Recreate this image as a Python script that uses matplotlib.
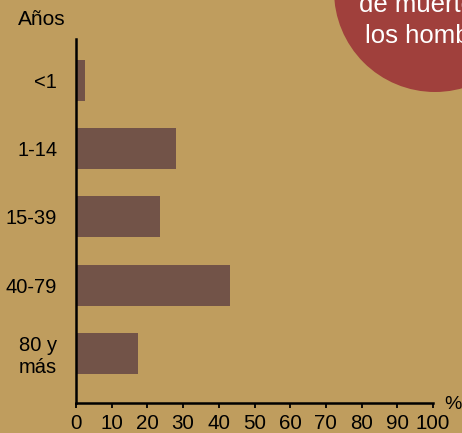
import matplotlib.pyplot as plt
from matplotlib.patches import Circle

# datos: porcentaje por grupo de edad
grupos = ['<1', '1-14', '15-39', '40-79', '80 y\nmás']
valores = [2.5, 28, 23.5, 43, 17.3]
ticks_x = [0, 10, 20, 30, 40, 50, 60, 70, 80, 90, 100]

fondo = '#bf9d5e'
color_barra = '#725348'
color_circulo = '#a0403c'

plt.rcParams['font.family'] = ['Liberation Sans', 'DejaVu Sans']

fig = plt.figure(figsize=(4.62, 4.33), dpi=100, facecolor=fondo)

# circulo rojo arriba a la derecha, cortado por el borde (en pulgadas)
circ = Circle((4.35, (433 + 9) / 100), 1.01, transform=fig.dpi_scale_trans,
              facecolor=color_circulo, edgecolor='none', zorder=0)
fig.patches.append(circ)
fig.text(435 / 462, 1 - 12.3 / 433, 'de muerte en', color='white', fontsize=18.5,
         ha='center', va='baseline')
fig.text(435 / 462, 1 - 42.7 / 433, 'los hombres', color='white', fontsize=18.5,
         ha='center', va='baseline')

ax = fig.add_axes([76 / 462, 30 / 433, 357 / 462, 364 / 433])
ax.set_facecolor('none')
pos = list(range(len(grupos)))
ax.barh(pos, valores, height=0.6, color=color_barra)
ax.set_xlim(0, 100)
ax.set_ylim(4.73, -0.61)
ax.set_xticks(ticks_x)
ax.set_yticks(pos)
ax.set_yticklabels(grupos, fontsize=14.5, ha='right')
ax.tick_params(axis='y', length=0, pad=13.5)
ax.tick_params(axis='x', length=3.5, width=1.3, labelsize=14.8, pad=4.5)
for s in ['top', 'right']:
    ax.spines[s].set_visible(False)
for s in ['left', 'bottom']:
    ax.spines[s].set_linewidth(1.8)

fig.text(42 / 462, 1 - 25 / 433, 'Años', fontsize=15, ha='center', va='baseline')
fig.text(453 / 462, 1 - 409 / 433, '%', fontsize=14, ha='center', va='baseline')

fig.savefig('out.png', dpi=100, facecolor=fondo)
